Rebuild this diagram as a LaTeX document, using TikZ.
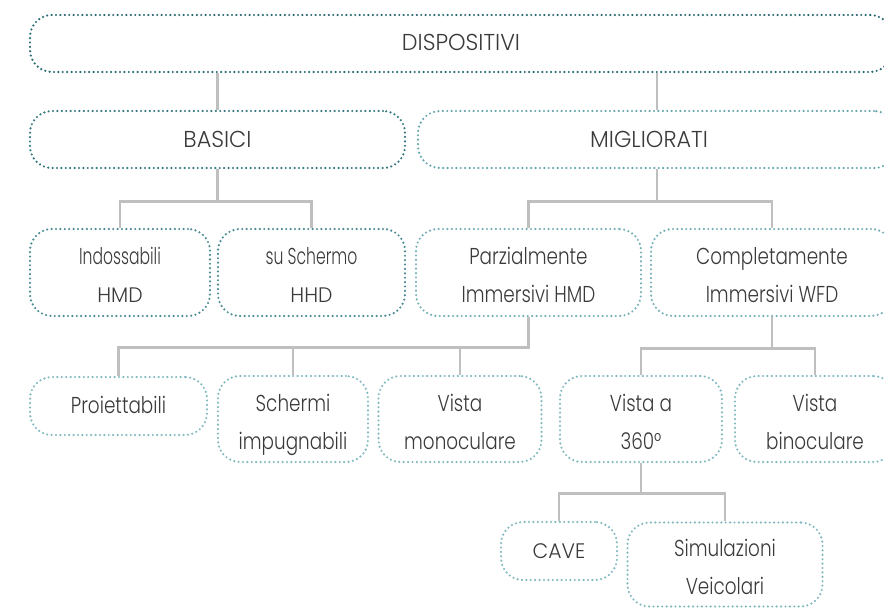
\documentclass[tikz,border=0pt]{standalone}
\usepackage{fontspec}
\usepackage{graphicx}
\setmainfont{Poppins}[UprightFont=* Light, FakeStretch=0.80]
\newfontfamily\capsfont{Poppins}[UprightFont=* Light, FakeStretch=0.97]
\usetikzlibrary{calc}
\definecolor{tealA}{HTML}{2A6A73}
\definecolor{tealB}{HTML}{357780}
\definecolor{tealC}{HTML}{65A6AD}
\definecolor{tealD}{HTML}{4A8B94}
\definecolor{tealE}{HTML}{74B0B7}
\definecolor{tealF}{HTML}{80BAC0}
\definecolor{txt}{HTML}{3A3A3A}
\definecolor{wire}{HTML}{BFBFBF}
% wide capitals and horizontally squeezed words
\newcommand{\bigcaps}[2][23]{{\capsfont\fontsize{#1}{38}\selectfont #2}}
\newcommand{\squeezed}[1]{\scalebox{0.7}[1]{\capsfont\fontsize{23}{38}\selectfont #1}}
\tikzset{
  box/.style={rectangle, rounded corners=22pt, line width=2.4pt,
    dash pattern=on 0pt off 4.4pt, line cap=round, text=txt,
    align=center, inner sep=0pt,
    font=\fontsize{23}{38}\selectfont},
  oneline/.style={box, text height=16pt, text depth=1pt},
  % the text box of a two-line label sits on its last line
  twoline/.style={box, text height=62pt, text depth=2pt},
  link/.style={draw=wire, line width=2.6pt},
}
\begin{document}
\begin{tikzpicture}[x=1pt,y=-1pt]
\useasboundingbox (0,0) rectangle (884,610);
% level 0
\node[oneline, draw=tealA, minimum width=862pt, minimum height=57pt] (disp) at (461,43.5) {\bigcaps{DISPOSITIVI}};
% level 1
\node[oneline, draw=tealB, minimum width=375pt, minimum height=57pt] (basici) at (217.5,139.5) {\bigcaps{BASICI}};
\node[oneline, draw=tealC, minimum width=478pt, minimum height=57pt] (migl) at (657,139.5) {\hspace*{-8pt}\bigcaps{MIGLIORATI}\hspace*{8pt}};
% level 2
\node[twoline, draw=tealD, minimum width=180pt, minimum height=87pt] (indoss) at (120,272.5) {\squeezed{Indossabili}\\\bigcaps[21]{HMD}};
\node[twoline, draw=tealD, minimum width=187pt, minimum height=87pt] (schermo) at (311.5,272.5) {\squeezed{su Schermo}\\\bigcaps[21]{HHD}};
\node[twoline, draw=tealE, minimum width=225pt, minimum height=87pt] (parz) at (528.5,272.5) {Parzialmente\\Immersivi HMD};
\node[twoline, draw=tealE, minimum width=242pt, minimum height=87pt] (compl) at (772,272.5) {Completamente\\Immersivi WFD};
% level 3
\node[oneline, draw=tealF, minimum width=177pt, minimum height=58pt] (proi) at (118.5,406) {Proiettabili};
\node[twoline, draw=tealF, minimum width=150pt, minimum height=86pt] (schim) at (293,419) {Schermi\\impugnabili};
\node[twoline, draw=tealF, minimum width=163pt, minimum height=86pt] (vmono) at (460,419) {Vista\\monoculare};
\node[twoline, draw=tealF, minimum width=162pt, minimum height=86pt] (v360) at (641,419) {Vista a\\360°};
\node[twoline, draw=tealF, minimum width=160pt, minimum height=86pt] (vbino) at (815,419) {Vista\\binoculare};
% level 4
\node[oneline, draw=tealF, minimum width=116pt, minimum height=58pt] (cave) at (559,551) {\bigcaps[21]{CAVE}};
\node[twoline, draw=tealF, minimum width=195pt, minimum height=84pt] (simu) at (725,564.5) {Simulazioni\\Veicolari};
% connectors
\draw[link] (basici.north) -- (basici.north |- disp.south);
\draw[link] (migl.north) -- (migl.north |- disp.south);
\coordinate (busB) at ($(basici.south)+(0,32)$);
\draw[link] (basici.south) -- (busB) -| (indoss.north);
\draw[link] (busB) -| (schermo.north);
\coordinate (busM) at ($(migl.south)+(0,32)$);
\draw[link] (migl.south) -- (busM) -| (parz.north);
\draw[link] (busM) -| (compl.north);
\coordinate (busP) at ($(parz.south)+(0,30)$);
\draw[link] (parz.south) -- (busP) -| (proi.north);
\draw[link] (busP) -| (schim.north);
\draw[link] (busP) -| (vmono.north);
\coordinate (busC) at ($(compl.south)+(0,31)$);
\draw[link] (compl.south) -- (busC) -| (v360.north);
\draw[link] (busC) -| (vbino.north);
\coordinate (busV) at ($(v360.south)+(0,30)$);
\draw[link] (v360.south) -- (busV) -| (cave.north);
\draw[link] (busV) -| (simu.north);
\end{tikzpicture}
\end{document}
